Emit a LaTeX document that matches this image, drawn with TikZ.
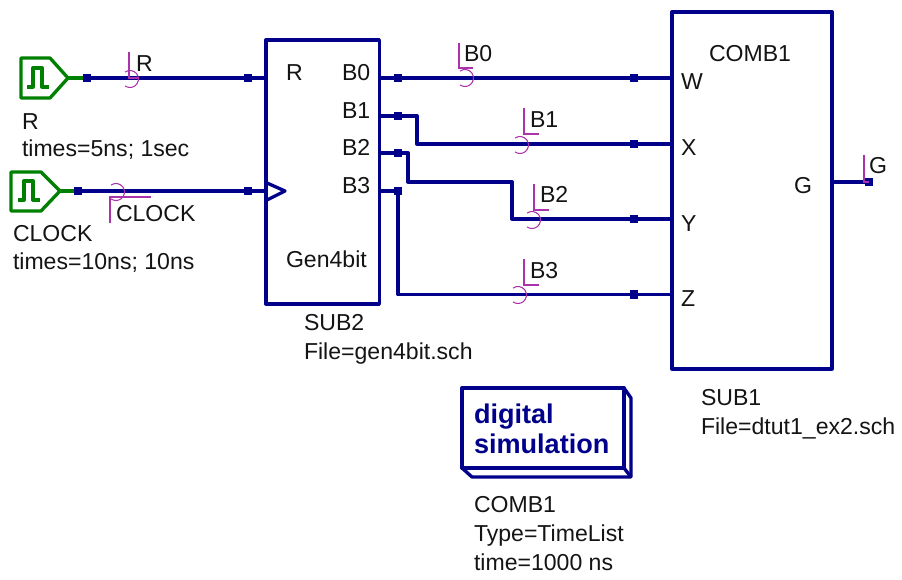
\documentclass[tikz,border=0pt]{standalone}
\usepackage{fontspec}
\setmainfont{Liberation Sans}
\definecolor{wirec}{RGB}{0,0,139}
\definecolor{srcc}{RGB}{0,128,0}
\definecolor{magc}{RGB}{170,50,170}
\definecolor{txtc}{RGB}{20,20,20}
\tikzset{
  txt/.style={anchor=base west,inner sep=0pt,outer sep=0pt,yshift=-0.5pt,text=txtc,font=\fontsize{17.3}{20}\selectfont},
  boldtxt/.style={anchor=base west,inner sep=0pt,outer sep=0pt,text=wirec,font=\fontsize{20.3}{24}\selectfont\bfseries},
  wire/.style={draw=wirec,line width=2.5pt,line join=round},
  blockbox/.style={draw=wirec,line width=2.5pt,fill=white,line join=round,outer sep=0pt,inner sep=0pt,anchor=north west},
  src/.style={draw=srcc,line width=2.5pt,line join=round},
  pin/.style={fill=wirec,minimum size=6.4pt,inner sep=0pt,outer sep=0pt,shape=rectangle},
  lbl/.style={draw=magc,line width=0.8pt},
}
\newcommand{\wirearc}[2]{\draw[lbl] ({#1-4.9},{#2-6.96}) arc[start angle=-125,end angle=125,radius=8.5];}
\begin{document}
\begin{tikzpicture}[x=0.75pt,y=-0.75pt]
\useasboundingbox (0,0) rectangle (902,580);
% blocks
\node[blockbox,minimum width=85.0pt,minimum height=198pt] (gen) at (266,40) {};
\node[blockbox,minimum width=120pt,minimum height=267.75pt] (comb) at (672,12) {};
\draw[wire] (267,183) -- (285,191) -- (267,200);
% sources
\draw[src] (21,58) -- (50,58) -- (68,78) -- (50,98) -- (21,98) -- cycle;
\draw[src] (27,87) -- (33,87) -- (33,68) -- (42,68) -- (42,87) -- (49,87);
\draw[src] (11,172) -- (41,172) -- (60,191) -- (41,211) -- (11,211) -- cycle;
\draw[src] (18,200) -- (24,200) -- (24,181) -- (33,181) -- (33,200) -- (40,200);
% pins
\node[pin] (pR1) at (87,78) {};
\node[pin] (pR2) at (248,78) {};
\node[pin] (pC1) at (78,191) {};
\node[pin] (pC2) at (248,191) {};
\node[pin] (b0a) at (398,78) {};
\node[pin] (b1a) at (398,116) {};
\node[pin] (b2a) at (398,153) {};
\node[pin] (b3a) at (398,191) {};
\node[pin] (w) at (634,78) {};
\node[pin] (x) at (634,144) {};
\node[pin] (y) at (634,219) {};
\node[pin] (z) at (634,294.5) {};
\node[pin] (gout) at (869,182) {};
\coordinate (srcR) at (68,78);
\coordinate (srcC) at (60,191);
% wires
\draw[src] (srcR) -- (pR1);
\draw[src] (srcC) -- (pC1);
\draw[wire] (pR1) -- (pR2) -- (pR2 -| gen.west);
\draw[wire] (pC1) -- (pC2) -- (pC2 -| gen.west);
\draw[wire] (b0a -| gen.east) -- (b0a) -- (w) -- (w -| comb.west);
\draw[wire] (b1a -| gen.east) -- (b1a) -- (417,116) -- (417,144) -- (x) -- (x -| comb.west);
\draw[wire] (b2a -| gen.east) -- (b2a) -- (408,153) -- (408,182) -- (512,182) -- (512,219) -- (y) -- (y -| comb.west);
\draw[wire] (b3a -| gen.east) -- (b3a) -- (b3a |- z) -- (z) -- (z -| comb.west);
\draw[wire] (gout -| comb.east) -- (gout);
% wire labels
\draw[lbl] (129,52) -- (129,78) -- (138,78);
\wirearc{130}{79}
\draw[lbl] (151,197) -- (110,197) -- (110,223);
\wirearc{116}{192}
\draw[lbl] (459,43) -- (459,68) -- (473,68);
\wirearc{465}{78}
\draw[lbl] (524,108) -- (524,134) -- (539,134);
\wirearc{520}{145}
\draw[lbl] (534,184) -- (534,210) -- (549,210);
\wirearc{532}{220}
\draw[lbl] (524,259) -- (524,285) -- (539,285);
\wirearc{518}{295}
\draw[lbl] (864,155) -- (864,182) -- (869,182);
% texts
\node[txt] (t1) at (22,129) {R};
\node[txt] (t2) at (22,156) {times=5ns; 1sec};
\node[txt] (t3) at (13,241) {CLOCK};
\node[txt] (t4) at (13,269) {times=10ns; 10ns};
\node[txt] (t5) at (136,71) {R};
\node[txt] (t6) at (116,221) {CLOCK};
\node[txt] (t7) at (286,80) {R};
\node[txt] (t8) at (342,80) {B0};
\node[txt] (t9) at (342,118) {B1};
\node[txt] (t10) at (342,155) {B2};
\node[txt] (t11) at (342,193) {B3};
\node[txt] (t12) at (286,267) {Gen4bit};
\node[txt] (t13) at (304,330) {SUB2};
\node[txt] (t14) at (304,359) {File=gen4bit.sch};
\node[txt] (t15) at (464,61) {B0};
\node[txt] (t16) at (530,127) {B1};
\node[txt] (t17) at (540,202) {B2};
\node[txt] (t18) at (530,278) {B3};
\node[txt] (t19) at (709,61) {COMB1};
\node[txt] (t20) at (681,89) {W};
\node[txt] (t21) at (681,155) {X};
\node[txt] (t22) at (681,231) {Y};
\node[txt] (t23) at (681,306) {Z};
\node[txt] (t24) at (794,193) {G};
\node[txt] (t25) at (869,173) {G};
\node[txt] (t26) at (701,405) {SUB1};
\node[txt] (t27) at (701,434) {File=dtut1\_ex2.sch};
% simulation box
\draw[wire] (624,388) -- (631,398) -- (631,477) -- (472,477) -- (462,468);
\draw[wire] (624,468) -- (631,477);
\node[blockbox,line width=3pt,minimum width=121.5pt,minimum height=60pt] (sim) at (462,388) {};
\node[boldtxt] (d1) at (474,423) {digital};
\node[boldtxt] (d2) at (474,453) {simulation};
\node[txt] (t28) at (474,512) {COMB1};
\node[txt] (t29) at (474,541) {Type=TimeList};
\node[txt] (t30) at (474,570) {time=1000 ns};
\end{tikzpicture}
\end{document}
